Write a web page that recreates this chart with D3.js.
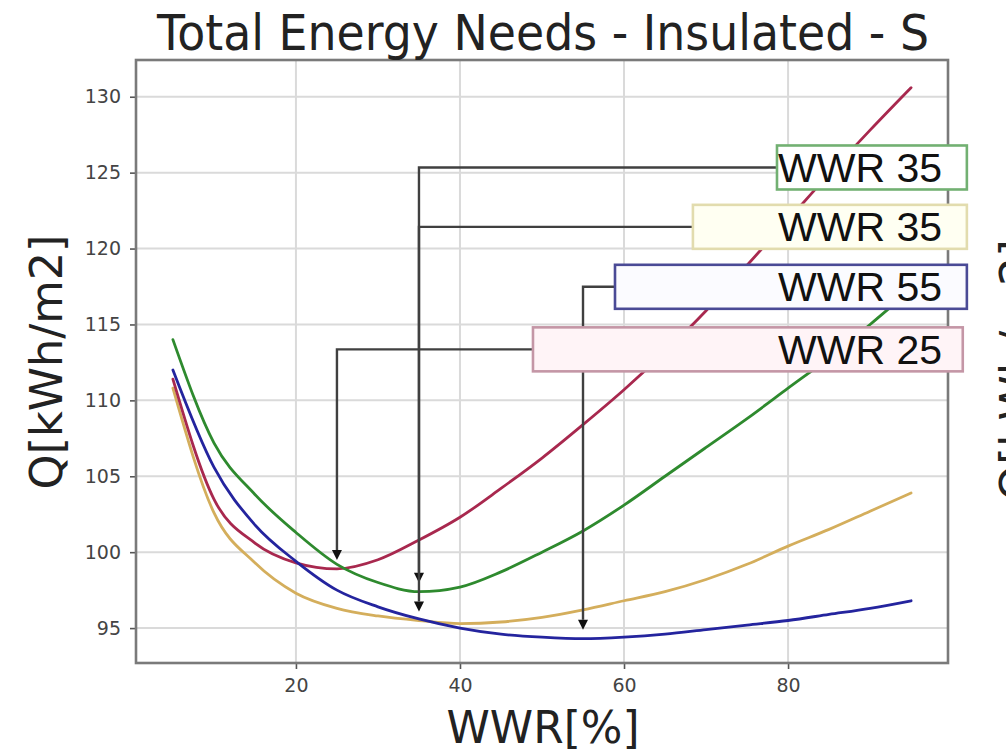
<!DOCTYPE html>
<html>
<head>
<meta charset="utf-8">
<script src="https://cdn.jsdelivr.net/npm/d3@7"></script>
<style>
  html, body { margin: 0; padding: 0; background: #ffffff; }
  svg { display: block; }
</style>
</head>
<body>
<svg id="chart" width="1006" height="756"></svg>
<script>
// Window-to-wall ratio samples [%]
const wwr = [5, 10, 15, 20, 25, 30, 35, 40, 45, 50, 55, 60, 65, 70, 75, 80, 85, 90, 95];

// Total energy need Q [kWh/m2] for each configuration
const qRed    = [111.4, 103.5, 100.6, 99.3, 98.9, 99.5, 100.8, 102.3, 104.2, 106.2, 108.4, 110.7, 113.2, 115.9, 118.9, 121.9, 124.9, 127.8, 130.6];
const qGreen  = [114.0, 107.2, 103.8, 101.3, 99.2, 98.0, 97.4, 97.7, 98.7, 100.0, 101.4, 103.1, 105.0, 106.9, 108.8, 110.8, 112.8, 115.0, 117.3];
const qYellow = [110.8, 102.6, 99.3, 97.3, 96.3, 95.8, 95.5, 95.3, 95.4, 95.7, 96.2, 96.8, 97.4, 98.2, 99.2, 100.4, 101.5, 102.7, 103.9];
const qBlue   = [112.0, 105.6, 101.8, 99.4, 97.5, 96.4, 95.6, 95.0, 94.6, 94.4, 94.3, 94.4, 94.6, 94.9, 95.2, 95.5, 95.9, 96.3, 96.8];

// Axis ticks
const xTicks = [20, 40, 60, 80];
const yTicks = [95, 100, 105, 110, 115, 120, 125, 130];

// Optimum WWR annotated for each curve
const optimumLabels = ["WWR 35", "WWR 35", "WWR 55", "WWR 25"];
const optimumWwr    = [35, 35, 55, 25];

// ---- layout & styling ----
const plot = { left: 136, right: 948, top: 60, bottom: 663 };

const series = [
  { values: qYellow, color: "#d4ae5c" },
  { values: qRed,    color: "#a8284e" },
  { values: qBlue,   color: "#24249e" },
  { values: qGreen,  color: "#2e8a2e" }
];

// Annotation boxes (data coordinates), in label order
const boxLayout = [
  { series: qGreen,  left: 78.65, right: 101.8, cy: 125.34, stroke: "#72b072", fill: "#ffffff" },
  { series: qYellow, left: 68.4,  right: 101.8, cy: 121.43, stroke: "#e2dcae", fill: "#fffff2" },
  { series: qBlue,   left: 58.9,  right: 101.8, cy: 117.48, stroke: "#4a4a96", fill: "#fbfbff" },
  { series: qRed,    left: 48.9,  right: 101.3, cy: 113.36, stroke: "#c496a6", fill: "#fff4f7" }
];
const boxHeight = 44;

const svg = d3.select("#chart");

const x = d3.scaleLinear().domain([0.5, 99.5]).range([plot.left, plot.right]);
const y = d3.scaleLinear().domain([92.7, 132.42]).range([plot.bottom, plot.top]);

// Background
svg.append("rect").attr("width", 1006).attr("height", 756).attr("fill", "#ffffff");

// Grid
const grid = svg.append("g").attr("stroke", "#dadada").attr("stroke-width", 2);
grid.selectAll("line.gx").data(xTicks).join("line")
  .attr("x1", d => x(d)).attr("x2", d => x(d))
  .attr("y1", plot.top).attr("y2", plot.bottom);
grid.selectAll("line.gy").data(yTicks).join("line")
  .attr("x1", plot.left).attr("x2", plot.right)
  .attr("y1", d => y(d)).attr("y2", d => y(d));

// Axes
const xAxis = svg.append("g")
  .attr("transform", `translate(0,${plot.bottom})`)
  .call(d3.axisBottom(x).tickValues(xTicks).tickSize(6).tickPadding(10).tickFormat(d3.format("d")));
const yAxis = svg.append("g")
  .attr("transform", `translate(${plot.left},0)`)
  .call(d3.axisLeft(y).tickValues(yTicks).tickSize(6).tickPadding(9).tickFormat(d3.format("d")));
[xAxis, yAxis].forEach(g => {
  g.select(".domain").remove();
  g.selectAll(".tick line").attr("stroke", "#555").attr("stroke-width", 1.6);
  g.selectAll(".tick text")
    .attr("fill", "#444")
    .attr("font-family", "DejaVu Sans, sans-serif")
    .attr("font-size", 19);
});

// Curves
const line = d3.line()
  .x((d, i) => x(wwr[i]))
  .y(d => y(d))
  .curve(d3.curveMonotoneX);

svg.append("g").selectAll("path").data(series).join("path")
  .attr("d", d => line(d.values))
  .attr("fill", "none")
  .attr("stroke", d => d.color)
  .attr("stroke-width", 2.8)
  .attr("stroke-linejoin", "round")
  .attr("stroke-linecap", "round");

// Frame
svg.append("rect")
  .attr("x", plot.left).attr("y", plot.top)
  .attr("width", plot.right - plot.left).attr("height", plot.bottom - plot.top)
  .attr("fill", "none").attr("stroke", "#7a7a7a").attr("stroke-width", 2.6);

// Annotation connectors with arrowheads
const shrink = 9, headLen = 10, headHalf = 5;
const ann = svg.append("g");
boxLayout.forEach((b, i) => {
  const wx = optimumWwr[i];
  const px = x(wx);
  const py = y(b.series[wwr.indexOf(wx)]);
  const tipY = py - shrink;
  const cy = y(b.cy);
  ann.append("path")
    .attr("d", `M${x(b.left)},${cy} H${px} V${tipY - headLen}`)
    .attr("fill", "none").attr("stroke", "#404040").attr("stroke-width", 2.4);
  ann.append("path")
    .attr("d", `M${px},${tipY} L${px - headHalf},${tipY - headLen} L${px + headHalf},${tipY - headLen} Z`)
    .attr("fill", "#111");
});

// Annotation boxes and labels
boxLayout.forEach((b, i) => {
  const cy = y(b.cy);
  svg.append("rect")
    .attr("x", x(b.left)).attr("y", cy - boxHeight / 2)
    .attr("width", x(b.right) - x(b.left)).attr("height", boxHeight)
    .attr("fill", b.fill).attr("stroke", b.stroke).attr("stroke-width", 2.6);
  svg.append("text")
    .attr("x", 942).attr("y", cy + 14.5)
    .attr("text-anchor", "end")
    .attr("font-family", "Liberation Sans, Arial, sans-serif")
    .attr("font-size", 41)
    .attr("fill", "#111")
    .text(optimumLabels[i]);
});

// Title and axis labels
svg.append("text")
  .attr("x", 543).attr("y", 50)
  .attr("text-anchor", "middle")
  .attr("font-family", "DejaVu Sans, sans-serif")
  .attr("font-size", 50)
  .attr("fill", "#222")
  .attr("textLength", 772).attr("lengthAdjust", "spacingAndGlyphs")
  .text("Total Energy Needs - Insulated - S");

svg.append("text")
  .attr("x", 543).attr("y", 743)
  .attr("text-anchor", "middle")
  .attr("font-family", "DejaVu Sans, sans-serif")
  .attr("font-size", 44)
  .attr("fill", "#222")
  .attr("textLength", 193).attr("lengthAdjust", "spacingAndGlyphs")
  .text("WWR[%]");

svg.append("text")
  .attr("transform", "translate(46,362) rotate(-90)")
  .attr("text-anchor", "middle")
  .attr("dominant-baseline", "central")
  .attr("font-family", "DejaVu Sans, sans-serif")
  .attr("font-size", 44)
  .attr("fill", "#222")
  .attr("textLength", 255).attr("lengthAdjust", "spacingAndGlyphs")
  .text("Q[kWh/m2]");

// Axis label of the neighbouring panel, cut by the page edge
svg.append("text")
  .attr("transform", "translate(1016,370) rotate(-90)")
  .attr("text-anchor", "middle")
  .attr("dominant-baseline", "central")
  .attr("font-family", "DejaVu Sans, sans-serif")
  .attr("font-size", 44)
  .attr("fill", "#222")
  .attr("textLength", 262).attr("lengthAdjust", "spacingAndGlyphs")
  .text("Q[kWh/m2]");
</script>
</body>
</html>
